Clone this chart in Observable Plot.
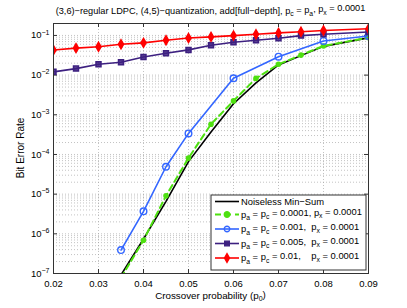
<!DOCTYPE html>
<html>
<head>
<meta charset="utf-8">
<script src="https://cdn.jsdelivr.net/npm/d3@7"></script>
<script src="https://cdn.jsdelivr.net/npm/@observablehq/plot@0.6"></script>
<style>
  html, body { margin: 0; padding: 0; background: white; }
  #chart svg { display: block; }
</style>
</head>
<body>
<div id="chart"></div>
<script>
// ---- data ----
const xTicks = [0.02, 0.03, 0.04, 0.05, 0.06, 0.07, 0.08, 0.09];
const yTicks = [1e-7, 1e-6, 1e-5, 1e-4, 1e-3, 1e-2, 1e-1];
const yTickLabels = ["10^−7", "10^−6", "10^−5", "10^−4", "10^−3", "10^−2", "10^−1"];
const minorMultipliers = [2, 3, 4, 5, 6, 7, 8, 9];

const blackX = [0.035, 0.04, 0.045, 0.05, 0.055, 0.06, 0.065, 0.07, 0.075, 0.08, 0.09];
const blackY = [9.2e-8, 7.4e-7, 6.6e-6, 6.6e-5, 3.7e-4, 1.9e-3, 6.4e-3, 0.018, 0.031, 0.053, 0.087];

const greenX = [0.035, 0.04, 0.045, 0.05, 0.055, 0.06, 0.065, 0.07, 0.075, 0.08, 0.09];
const greenY = [7.8e-8, 6.9e-7, 9.1e-6, 8.1e-5, 5.8e-4, 2.24e-3, 8.3e-3, 0.0188, 0.032, 0.0544, 0.088];

const blueX = [0.035, 0.04, 0.045, 0.05, 0.06, 0.07, 0.08, 0.09];
const blueY = [3.9e-7, 3.7e-6, 4.9e-5, 3.4e-4, 8.3e-3, 0.0292, 0.0726, 0.097];

const purpleX = [0.02, 0.025, 0.03, 0.035, 0.04, 0.045, 0.05, 0.055, 0.06, 0.065, 0.07, 0.075, 0.08, 0.09];
const purpleY = [0.0121, 0.0146, 0.0188, 0.0211, 0.0287, 0.0356, 0.0432, 0.0566, 0.0674, 0.0757, 0.0849, 0.0989, 0.107, 0.1225];

const redX = [0.02, 0.025, 0.03, 0.035, 0.04, 0.045, 0.05, 0.055, 0.06, 0.065, 0.07, 0.075, 0.08, 0.09];
const redY = [0.043, 0.048, 0.052, 0.060, 0.065, 0.076, 0.086, 0.092, 0.099, 0.107, 0.116, 0.124, 0.133, 0.147];

const colors = { black: "#000000", green: "#4ee010", blue: "#3366ff", purple: "#3d2080", red: "#ff0000" };

const toRows = (xs, ys) => xs.map((x, i) => ({ x, y: ys[i] }));
const black = toRows(blackX, blackY);
const green = toRows(greenX, greenY);
const blue = toRows(blueX, blueY);
const purple = toRows(purpleX, purpleY);
const red = toRows(redX, redY);

const yMinor = [];
for (const d of yTicks) for (const m of minorMultipliers) { const v = d * m; if (v <= 0.2) yMinor.push(v); }

const yLabelFor = d => {
  const i = yTicks.findIndex(t => Math.abs(Math.log10(t) - Math.log10(d)) < 1e-6);
  return i >= 0 ? yTickLabels[i] : "";
};

const W = 407, H = 308;
const mL = 53, mR = 39, mT = 23, mB = 35;
const font = "'Liberation Sans', Arial, Helvetica, sans-serif";

const chart = Plot.plot({
  width: W, height: H,
  marginLeft: mL, marginRight: mR, marginTop: mT, marginBottom: mB,
  style: { fontFamily: font, fontSize: "9.5px", background: "white", color: "#000" },
  x: { domain: [0.02, 0.09], ticks: xTicks, tickFormat: d3.format(".2f"), label: null, tickSize: 0, tickPadding: 7 },
  y: { type: "log", domain: [1e-7, 0.2], ticks: yTicks, tickFormat: yLabelFor, label: null, tickSize: 0, tickPadding: 4 },
  marks: [
    Plot.ruleY(yMinor, { stroke: "#9a9a9a", strokeWidth: 0.6, strokeDasharray: "1,2" }),
    Plot.ruleY(yTicks, { stroke: "#9a9a9a", strokeWidth: 0.6, strokeDasharray: "1,2" }),
    Plot.ruleX(xTicks, { stroke: "#9a9a9a", strokeWidth: 0.6, strokeDasharray: "1,2" }),
    Plot.tickY(yTicks, { stroke: "#333", insetRight: W - mL - mR - 4 }),
    Plot.tickY(yTicks, { stroke: "#333", insetLeft: W - mL - mR - 4 }),
    Plot.tickX(xTicks, { stroke: "#333", insetTop: H - mT - mB - 4 }),
    Plot.tickX(xTicks, { stroke: "#333", insetBottom: H - mT - mB - 4 }),
    Plot.line(black, { x: "x", y: "y", stroke: colors.black, strokeWidth: 1.6, clip: true }),
    Plot.line(green, { x: "x", y: "y", stroke: colors.green, strokeWidth: 2, strokeDasharray: "6,4", clip: true }),
    Plot.dot(green, { x: "x", y: "y", fill: colors.green, r: 2.8, clip: true }),
    Plot.line(blue, { x: "x", y: "y", stroke: colors.blue, strokeWidth: 1.6, clip: true }),
    Plot.dot(blue, { x: "x", y: "y", stroke: colors.blue, fill: "none", r: 3.3, strokeWidth: 1.4, clip: true }),
    Plot.line(purple, { x: "x", y: "y", stroke: colors.purple, strokeWidth: 1.6, clip: true }),
    Plot.dot(purple, { x: "x", y: "y", symbol: "square", stroke: colors.purple, fill: colors.purple, fillOpacity: 0.85, r: 2.8, clip: true }),
    Plot.line(red, { x: "x", y: "y", stroke: colors.red, strokeWidth: 1.6, clip: true }),
    Plot.dot(red, { x: "x", y: "y", symbol: "diamond", stroke: colors.red, fill: colors.red, r: 2.7, clip: true }),
    Plot.frame({ stroke: "#333", strokeWidth: 1 })
  ]
});

document.getElementById("chart").appendChild(chart);
const svg = d3.select(chart);

// superscript exponents on y tick labels
svg.selectAll('[aria-label="y-axis tick label"] text').each(function () {
  const t = d3.select(this);
  const s = t.text();
  const m = s.match(/^10\^(.*)$/);
  if (m) {
    t.text("10");
    t.append("tspan").attr("dy", "-0.55em").attr("font-size", "7px").text(m[1]);
  }
});

// rich text with subscripts: parts = [[text, isSub], ...]
function rich(sel, parts, subSize) {
  let down = false;
  parts.forEach(([s, sub]) => {
    const ts = sel.append("tspan").text(s);
    if (sub && !down) { ts.attr("dy", "0.35em").attr("font-size", subSize); down = true; }
    else if (sub) { ts.attr("font-size", subSize); }
    else if (!sub && down) { ts.attr("dy", "-0.35em"); down = false; }
  });
  return sel;
}

const plotCx = mL + (W - mL - mR) / 2;

// title
rich(svg.append("text").attr("x", plotCx).attr("y", 14).attr("text-anchor", "middle")
  .attr("font-family", font).attr("font-size", "9.2px").attr("fill", "#000"),
  [["(3,6)−regular LDPC, (4,5)−quantization, add[full−depth], p"], ["c", 1], [" = p"], ["a", 1], [", p"], ["x", 1], [" = 0.0001"]], "6.8px");

// x label
rich(svg.append("text").attr("x", plotCx).attr("y", 299).attr("text-anchor", "middle")
  .attr("font-family", font).attr("font-size", "9.8px").attr("fill", "#000"),
  [["Crossover probability (p"], ["0", 1], [")"]], "7px");

// y label
svg.append("text").attr("transform", `translate(24,${mT + (H - mT - mB) / 2}) rotate(-90)`)
  .attr("text-anchor", "middle").attr("font-family", font).attr("font-size", "10px").attr("fill", "#000")
  .text("Bit Error Rate");

// legend
const legendItems = [
  { key: "black", parts: [["Noiseless Min−Sum"]] },
  { key: "green", dash: "6,4", symbol: "circle", fill: true, parts: [["p"], ["a", 1], [" = p"], ["c", 1], [" = 0.0001, p"], ["x", 1], [" = 0.0001"]] },
  { key: "blue", symbol: "circle", fill: false, parts: [["p"], ["a", 1], [" = p"], ["c", 1], [" = 0.001,  p"], ["x", 1], [" = 0.0001"]] },
  { key: "purple", symbol: "square", fill: true, parts: [["p"], ["a", 1], [" = p"], ["c", 1], [" = 0.005,  p"], ["x", 1], [" = 0.0001"]] },
  { key: "red", symbol: "diamond", fill: true, parts: [["p"], ["a", 1], [" = p"], ["c", 1], [" = 0.01,    p"], ["x", 1], [" = 0.0001"]] }
];
const lg = svg.append("g").attr("transform", "translate(211,195)");
lg.append("rect").attr("width", 155).attr("height", 75).attr("fill", "white").attr("stroke", "#333").attr("stroke-width", 1);
const rowY = [6.5, 19.5, 34, 48.5, 63];
legendItems.forEach((it, i) => {
  const y = rowY[i];
  const c = colors[it.key];
  lg.append("line").attr("x1", 4).attr("x2", 28).attr("y1", y).attr("y2", y)
    .attr("stroke", c).attr("stroke-width", it.key === "green" ? 2 : 1.6)
    .attr("stroke-dasharray", it.dash || null);
  if (it.symbol) {
    const sym = { circle: d3.symbolCircle, square: d3.symbolSquare, diamond: d3.symbolDiamond }[it.symbol];
    const size = { circle: 24, square: 22, diamond: 22 }[it.symbol];
    lg.append("path").attr("d", d3.symbol(sym, size)()).attr("transform", `translate(16,${y})`)
      .attr("fill", it.fill ? c : "none").attr("stroke", c).attr("stroke-width", 1.3);
  }
  rich(lg.append("text").attr("x", 30).attr("y", y).attr("dy", "0.35em").attr("text-anchor", "start")
    .attr("font-family", font).attr("font-size", "9.4px").attr("fill", "#000").attr("xml:space", "preserve").style("white-space", "pre"),
    it.parts, "6.8px");
});
</script>
</body>
</html>
